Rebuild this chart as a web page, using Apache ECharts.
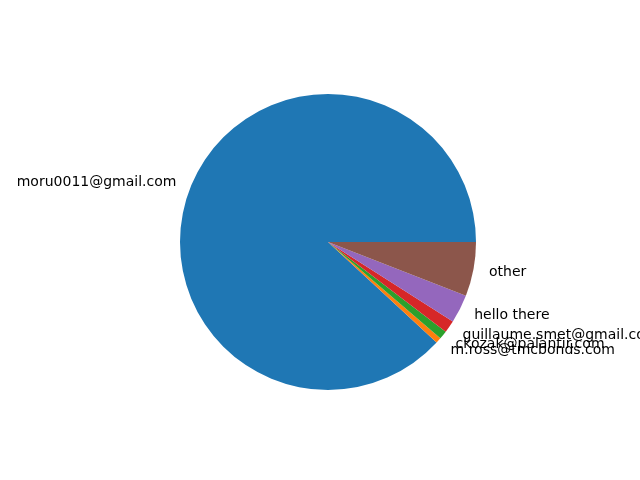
<!DOCTYPE html>
<html>
<head>
<meta charset="utf-8">
<script src="https://cdn.jsdelivr.net/npm/echarts@6/dist/echarts.min.js"></script>
<style>
  html, body { margin: 0; padding: 0; background: #fff; }
  #chart { width: 640px; height: 480px; }
</style>
</head>
<body>
<div id="chart"></div>
<script>
// slice shares (percent of whole)
const senders = [
  "moru0011@gmail.com",
  "m.ross@tmcbonds.com",
  "ckozak@palantir.com",
  "guillaume.smet@gmail.com",
  "hello there",
  "other"
];
const shares = [88.11, 0.61, 0.92, 1.33, 3.11, 5.92];
const palette = ["#1f77b4", "#ff7f0e", "#2ca02c", "#d62728", "#9467bd", "#8c564b"];

const FONT = '"DejaVu Sans", sans-serif';
const R = 148;

const chart = echarts.init(document.getElementById("chart"), null, { renderer: "canvas" });
chart.setOption({
  animation: false,
  backgroundColor: "#ffffff",
  series: [
    {
      type: "pie",
      center: [328, 242],
      radius: [0, R],
      startAngle: 0,
      clockwise: false,
      avoidLabelOverlap: false,
      minAngle: 0,
      itemStyle: { borderWidth: 0 },
      emphasis: { disabled: true },
      label: {
        show: true,
        position: "outside",
        color: "#000",
        fontFamily: FONT,
        fontSize: 14,
        overflow: "none",
        padding: [0, 0, 3, 1],
        distanceToLabelLine: 0
      },
      labelLayout: { hideOverlap: false, moveOverlap: null },
      labelLine: { show: false, length: R * 0.1, length2: 0 },
      data: senders.map((name, i) => ({
        name,
        value: shares[i],
        itemStyle: { color: palette[i] }
      }))
    }
  ]
});
</script>
</body>
</html>
